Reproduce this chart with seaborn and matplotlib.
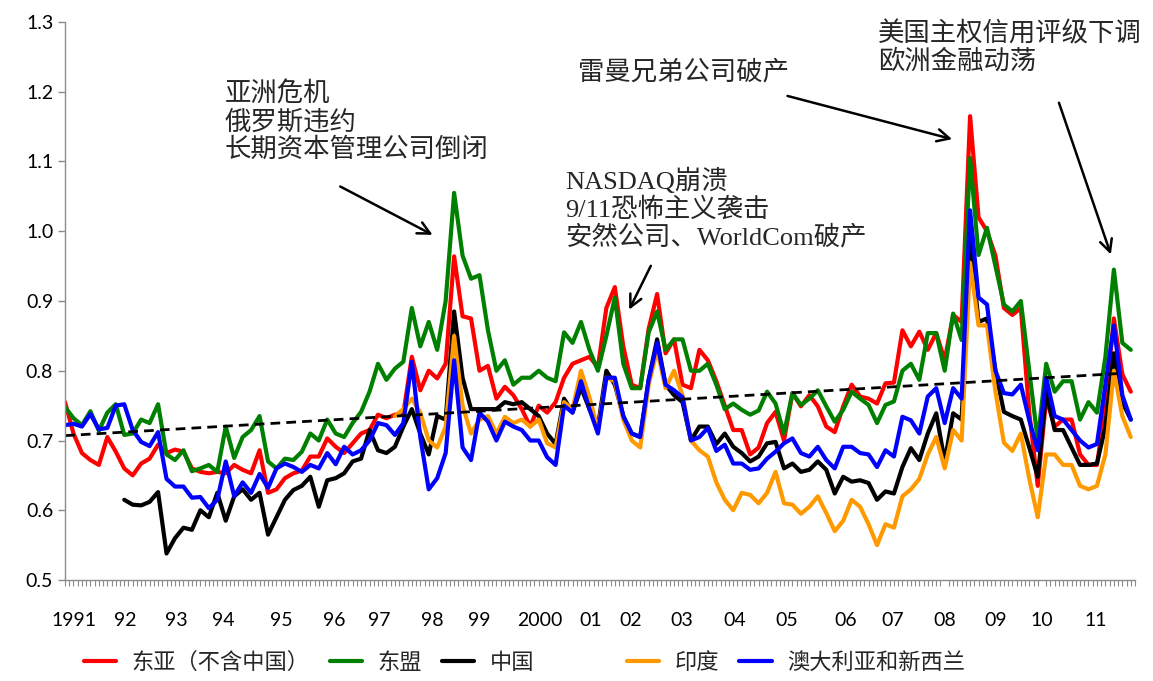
import numpy as np
import seaborn as sns
import matplotlib.pyplot as plt
from matplotlib.lines import Line2D
from matplotlib.ticker import FixedLocator, MultipleLocator, FormatStrFormatter

# month index: 0 = Jan 1991, one reading every two months
months = np.arange(0, 253, 2)
china_start = 14   # China series starts Mar 1992
india_start = 78   # India series starts Jul 1997

# East Asia (ex China), one row per year
east_asia = [
    0.755, 0.71, 0.682, 0.672, 0.665, 0.705,
    0.684, 0.66, 0.65, 0.667, 0.674, 0.694,
    0.682, 0.687, 0.684, 0.66, 0.655, 0.653,
    0.655, 0.653, 0.665, 0.658, 0.653, 0.686,
    0.625, 0.63, 0.646, 0.653, 0.657, 0.677,
    0.677, 0.703, 0.691, 0.682, 0.696, 0.71,
    0.715, 0.737, 0.732, 0.737, 0.739, 0.82,
    0.772, 0.80, 0.789, 0.81, 0.964, 0.878,
    0.875, 0.80, 0.807, 0.76, 0.777, 0.765,
    0.745, 0.72, 0.75, 0.74, 0.755, 0.79,
    0.81, 0.815, 0.82, 0.805, 0.89, 0.92,
    0.835, 0.78, 0.775, 0.86, 0.91, 0.825,
    0.845, 0.78, 0.775, 0.83, 0.815, 0.785,
    0.75, 0.715, 0.715, 0.68, 0.69, 0.725,
    0.741, 0.70, 0.768, 0.749, 0.765, 0.749,
    0.72, 0.712, 0.749, 0.78, 0.763, 0.76,
    0.753, 0.782, 0.783, 0.858, 0.835, 0.856,
    0.83, 0.854, 0.815, 0.88, 0.87, 1.165,
    1.02, 1.0, 0.965, 0.89, 0.88, 0.89,
    0.74, 0.635, 0.76, 0.72, 0.73, 0.73,
    0.68, 0.665, 0.665, 0.75, 0.875, 0.795, 0.77,
]

asean = [
    0.748, 0.732, 0.722, 0.742, 0.714, 0.74,
    0.752, 0.708, 0.71, 0.73, 0.725, 0.752,
    0.68, 0.672, 0.686, 0.656, 0.66, 0.665,
    0.655, 0.72, 0.675, 0.705, 0.715, 0.735,
    0.67, 0.66, 0.674, 0.672, 0.684, 0.71,
    0.70, 0.73, 0.71, 0.705, 0.725, 0.741,
    0.77, 0.81, 0.787, 0.803, 0.813, 0.89,
    0.835, 0.87, 0.83, 0.90, 1.055, 0.965,
    0.932, 0.937, 0.858, 0.80, 0.815, 0.78,
    0.79, 0.79, 0.80, 0.79, 0.785, 0.855,
    0.84, 0.87, 0.83, 0.80, 0.85, 0.905,
    0.81, 0.775, 0.775, 0.855, 0.885, 0.83,
    0.845, 0.845, 0.80, 0.80, 0.81, 0.78,
    0.745, 0.753, 0.744, 0.737, 0.743, 0.77,
    0.753, 0.71, 0.768, 0.751, 0.76, 0.772,
    0.749, 0.727, 0.744, 0.77, 0.76, 0.751,
    0.725, 0.751, 0.756, 0.80, 0.81, 0.787,
    0.854, 0.854, 0.80, 0.882, 0.844, 1.105,
    0.966, 1.005, 0.95, 0.895, 0.885, 0.90,
    0.80, 0.70, 0.81, 0.77, 0.785, 0.785,
    0.73, 0.755, 0.74, 0.82, 0.945, 0.84, 0.83,
]

china = [
    0.615, 0.608, 0.607, 0.612, 0.626,
    0.538, 0.56, 0.575, 0.572, 0.60, 0.59,
    0.625, 0.585, 0.62, 0.63, 0.615, 0.625,
    0.565, 0.59, 0.615, 0.629, 0.635, 0.648,
    0.605, 0.643, 0.646, 0.653, 0.67, 0.674,
    0.715, 0.686, 0.682, 0.691, 0.72, 0.745,
    0.71, 0.68, 0.735, 0.73, 0.885, 0.79,
    0.745, 0.745, 0.745, 0.745, 0.755, 0.752,
    0.755, 0.745, 0.735, 0.71, 0.695, 0.76,
    0.74, 0.776, 0.745, 0.72, 0.80, 0.78,
    0.735, 0.71, 0.705, 0.787, 0.845, 0.78,
    0.765, 0.755, 0.70, 0.72, 0.72, 0.695,
    0.71, 0.691, 0.682, 0.67, 0.677, 0.696,
    0.698, 0.66, 0.667, 0.655, 0.658, 0.67,
    0.658, 0.624, 0.648, 0.641, 0.643, 0.639,
    0.615, 0.627, 0.624, 0.662, 0.689, 0.672,
    0.71, 0.739, 0.67, 0.739, 0.73, 0.99,
    0.87, 0.875, 0.80, 0.741, 0.735, 0.73,
    0.69, 0.648, 0.77, 0.715, 0.715, 0.69,
    0.665, 0.665, 0.667, 0.72, 0.825, 0.755, 0.73,
]

india = [
    0.735, 0.745, 0.76,
    0.74, 0.70, 0.69, 0.72, 0.85, 0.75,
    0.71, 0.73, 0.735, 0.71, 0.734, 0.725,
    0.73, 0.72, 0.73, 0.696, 0.69, 0.755,
    0.745, 0.80, 0.762, 0.715, 0.79, 0.785,
    0.73, 0.70, 0.69, 0.78, 0.83, 0.775,
    0.80, 0.765, 0.70, 0.686, 0.677, 0.64,
    0.615, 0.60, 0.625, 0.622, 0.61, 0.625,
    0.655, 0.61, 0.608, 0.595, 0.605, 0.62,
    0.596, 0.57, 0.585, 0.615, 0.605, 0.58,
    0.55, 0.58, 0.575, 0.62, 0.63, 0.645,
    0.68, 0.705, 0.66, 0.715, 0.70, 0.955,
    0.865, 0.865, 0.77, 0.697, 0.685, 0.71,
    0.645, 0.59, 0.68, 0.68, 0.665, 0.665,
    0.635, 0.63, 0.635, 0.68, 0.80, 0.735, 0.705,
]

aus_nz = [
    0.722, 0.724, 0.72, 0.738, 0.716, 0.718,
    0.75, 0.752, 0.715, 0.698, 0.692, 0.712,
    0.645, 0.634, 0.634, 0.618, 0.619, 0.603,
    0.615, 0.67, 0.62, 0.64, 0.625, 0.652,
    0.632, 0.66, 0.667, 0.662, 0.655, 0.665,
    0.66, 0.682, 0.666, 0.691, 0.68, 0.686,
    0.70, 0.725, 0.722, 0.708, 0.725, 0.813,
    0.705, 0.63, 0.646, 0.682, 0.815, 0.69,
    0.672, 0.74, 0.727, 0.70, 0.727, 0.72,
    0.715, 0.70, 0.70, 0.676, 0.665, 0.75,
    0.74, 0.785, 0.745, 0.71, 0.79, 0.79,
    0.735, 0.71, 0.705, 0.787, 0.84, 0.78,
    0.772, 0.762, 0.70, 0.705, 0.718, 0.685,
    0.694, 0.667, 0.667, 0.658, 0.66, 0.674,
    0.684, 0.696, 0.703, 0.682, 0.677, 0.691,
    0.672, 0.66, 0.691, 0.691, 0.682, 0.68,
    0.662, 0.686, 0.677, 0.734, 0.729, 0.71,
    0.763, 0.775, 0.725, 0.775, 0.76, 1.03,
    0.905, 0.895, 0.80, 0.768, 0.766, 0.78,
    0.729, 0.686, 0.79, 0.735, 0.73, 0.715,
    0.70, 0.69, 0.695, 0.78, 0.865, 0.765, 0.73,
]

# linear trend line (dashed)
trend_months = [0, 249]
trend_values = [0.707, 0.796]

year_labels = ['1991', '92', '93', '94', '95', '96', '97', '98', '99', '2000',
               '01', '02', '03', '04', '05', '06', '07', '08', '09', '10', '11']
# where the year labels sit (month index), as in the original
year_label_pos = [2.1, 14.2, 26.2, 37.4, 51.1, 63.6, 74.2, 86.8, 97.9, 112.3,
                  124.3, 133.8, 145.9, 158.4, 170.7, 184.6, 195.7, 208.0, 220.1, 231.0, 243.7]

series = [
    ('东亚（不含中国）', east_asia, 0, '#FF0000'),
    ('东盟', asean, 0, '#008000'),
    ('中国', china, china_start, '#000000'),
    ('印度', india, india_start, '#FF9900'),
    ('澳大利亚和新西兰', aus_nz, 0, '#0000FF'),
]

sns.set_theme(style='white')
plt.rcParams['font.family'] = ['Lato', 'DejaVu Sans']

fig = plt.figure(figsize=(11.53, 6.81), dpi=100)
ax = fig.add_axes([0.0564, 0.1483, 0.928, 0.8194])

handles = {}
for name, vals, start, color in series:
    x = months[start // 2:]
    sns.lineplot(x=x, y=vals, color=color, linewidth=3, ax=ax, legend=False)
    handles[name] = Line2D([], [], color=color, linewidth=3)

sns.lineplot(x=trend_months, y=trend_values, color='black', linewidth=2,
             linestyle=(0, (3.5, 2.2)), ax=ax, legend=False)

ax.set_xlim(0, 253)
ax.set_ylim(0.5, 1.3)
ax.set_xlabel('')
ax.set_ylabel('')

for side in ['top', 'right']:
    ax.spines[side].set_visible(False)
for side in ['left', 'bottom']:
    ax.spines[side].set_color('#8c8c8c')
    ax.spines[side].set_linewidth(1)

ax.yaxis.set_major_locator(MultipleLocator(0.1))
ax.yaxis.set_major_formatter(FormatStrFormatter('%.1f'))
ax.tick_params(axis='y', which='major', direction='out', length=5, width=1,
               color='#8c8c8c', labelsize=14, labelcolor='black', left=True)

ax.xaxis.set_major_locator(FixedLocator(year_label_pos))
ax.set_xticklabels(year_labels)
ax.xaxis.set_minor_locator(FixedLocator(np.arange(0, 254)))
ax.tick_params(axis='x', which='major', length=0, pad=23, labelsize=14, labelcolor='black')
ax.tick_params(axis='x', which='minor', direction='out', length=4, width=0.8,
               color='#8c8c8c', bottom=True)

# annotations
ann_font = ['Liberation Serif', 'Noto Sans CJK SC']
arrow = dict(arrowstyle='->', color='black', lw=1.8, mutation_scale=22)

ax.text(37.8, 1.214, '亚洲危机\n俄罗斯违约\n长期资本管理公司倒闭', family=ann_font,
        fontsize=19, va='top', ha='left', linespacing=1.15)
ax.annotate('', xy=(87.5, 0.993), xytext=(64.5, 1.066), arrowprops=arrow)

ax.text(118.2, 1.091, 'NASDAQ崩溃\n9/11恐怖主义袭击\n安然公司、WorldCom破产', family=ann_font,
        fontsize=19, va='top', ha='left', linespacing=1.15)
ax.annotate('', xy=(133.1, 0.884), xytext=(138.8, 0.954), arrowprops=arrow)

ax.text(121.3, 1.228, '雷曼兄弟公司破产', family=ann_font, fontsize=19, va='center', ha='left')
ax.annotate('', xy=(210.4, 1.131), xytext=(170.2, 1.195), arrowprops=arrow)

ax.text(192.2, 1.301, '美国主权信用评级下调\n欧洲金融动荡', family=ann_font,
        fontsize=19, va='top', ha='left', linespacing=1.15)
ax.annotate('', xy=(247.5, 0.963), xytext=(234.8, 1.188), arrowprops=arrow)

# legend (a blank slot between China and India, like the original)
blank = Line2D([], [], color='none')
leg_handles = [handles['东亚（不含中国）'], handles['东盟'], handles['中国'], blank,
               handles['印度'], handles['澳大利亚和新西兰']]
leg_labels = ['东亚（不含中国）', '东盟', '中国', ' ', '印度', '澳大利亚和新西兰']
fig.legend(leg_handles, leg_labels, loc='center', bbox_to_anchor=(0.455, 0.027), ncol=6,
           frameon=False, handlelength=1.45, handletextpad=0.7, columnspacing=0.9,
           prop={'family': ['Noto Sans CJK SC', 'DejaVu Sans'], 'size': 16})

fig.savefig('out.png', dpi=100)
